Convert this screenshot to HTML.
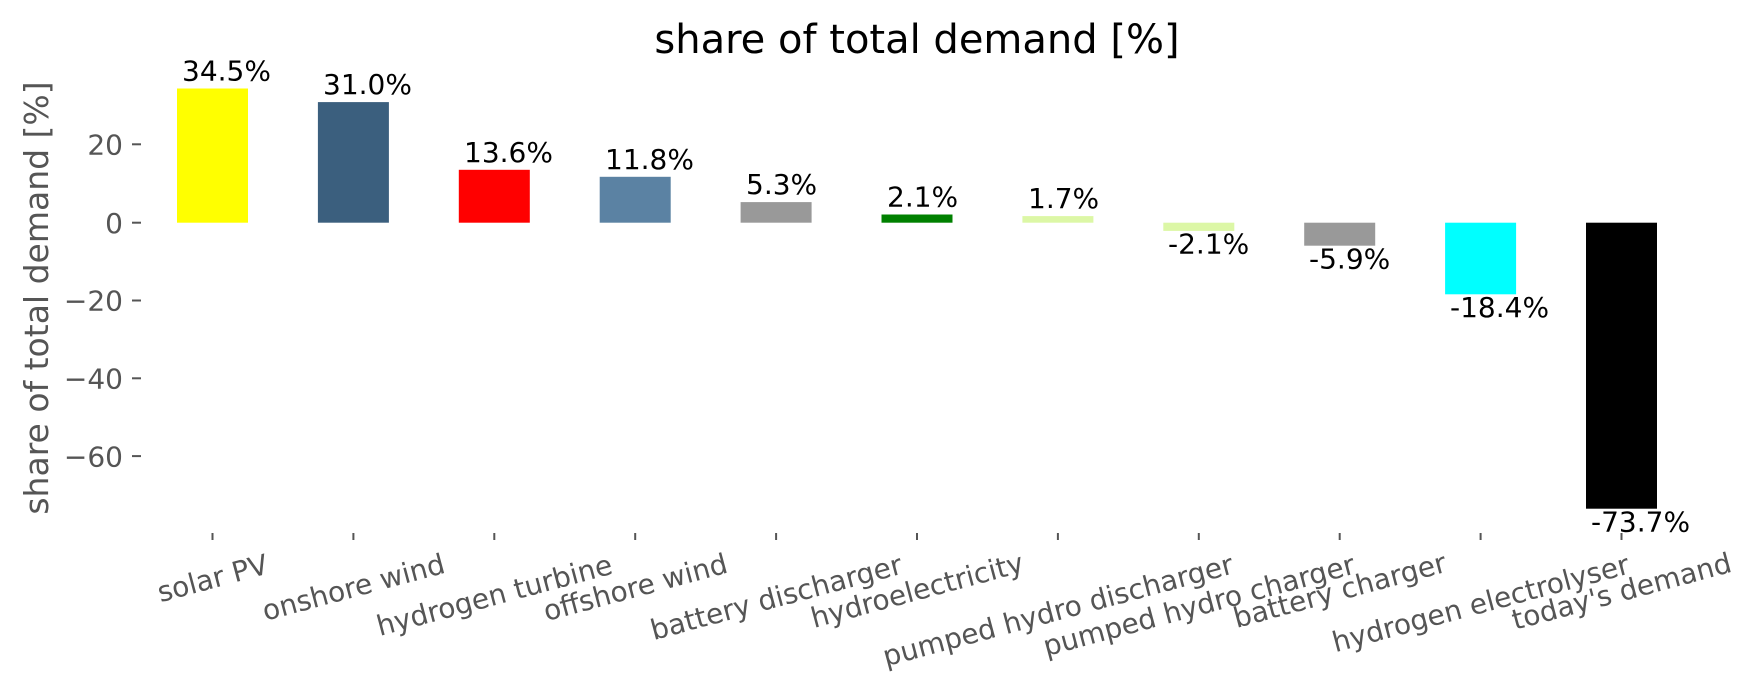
<!DOCTYPE html>
<html><head><meta charset="utf-8"><style>
html,body{margin:0;padding:0;background:#fff;}
svg{display:block;}
text{font-family:"DejaVu Sans","Liberation Sans",sans-serif;}
</style></head><body>
<svg width="1753" height="689" viewBox="0 0 1753 689" xmlns="http://www.w3.org/2000/svg">
<rect width="1753" height="689" fill="#fff"/>
<text x="917" y="53" font-size="40" text-anchor="middle" fill="#000">share of total demand [%]</text>
<text transform="translate(48,298) rotate(-90)" font-size="33" text-anchor="middle" fill="#555">share of total demand [%]</text>
<g font-size="28" fill="#555" text-anchor="end">
<text x="123" y="154.5">20</text>
<text x="123" y="233">0</text>
<text x="123" y="310.5">−20</text>
<text x="123" y="388.5">−40</text>
<text x="123" y="466.5">−60</text>
</g>
<g stroke="#555" stroke-width="2">
<line x1="132" y1="144.3" x2="141" y2="144.3"/>
<line x1="132" y1="222.7" x2="141" y2="222.7"/>
<line x1="132" y1="300.5" x2="141" y2="300.5"/>
<line x1="132" y1="378.3" x2="141" y2="378.3"/>
<line x1="132" y1="456.1" x2="141" y2="456.1"/>
</g>
<rect x="177" y="88.5" width="71" height="134.2" fill="#ffff00"/>
<rect x="317.9" y="102.1" width="71" height="120.6" fill="#3b5f7e"/>
<rect x="458.8" y="169.8" width="71" height="52.9" fill="#ff0000"/>
<rect x="599.7" y="176.8" width="71" height="45.9" fill="#5b82a3"/>
<rect x="740.6" y="202.1" width="71" height="20.6" fill="#999999"/>
<rect x="881.5" y="214.5" width="71" height="8.2" fill="#008000"/>
<rect x="1022.4" y="216.1" width="71" height="6.6" fill="#dcf7a6"/>
<rect x="1163.3" y="222.7" width="71" height="8.2" fill="#dcf7a6"/>
<rect x="1304.2" y="222.7" width="71" height="23" fill="#999999"/>
<rect x="1445.1" y="222.7" width="71" height="71.6" fill="#00ffff"/>
<rect x="1586" y="222.7" width="71" height="286" fill="#000"/>
<g font-size="28" fill="#000">
<text x="182" y="80.5">34.5%</text>
<text x="323" y="94">31.0%</text>
<text x="464" y="161.8">13.6%</text>
<text x="605" y="168.8">11.8%</text>
<text x="746" y="194.1">5.3%</text>
<text x="887" y="206.5">2.1%</text>
<text x="1028" y="208.1">1.7%</text>
<text x="1168" y="253.5">-2.1%</text>
<text x="1309" y="268.5">-5.9%</text>
<text x="1450" y="317">-18.4%</text>
<text x="1591" y="531.5">-73.7%</text>
</g>
<g stroke="#555" stroke-width="2">
<line x1="212.5" y1="533" x2="212.5" y2="540"/>
<line x1="353.4" y1="533" x2="353.4" y2="540"/>
<line x1="494.3" y1="533" x2="494.3" y2="540"/>
<line x1="635.2" y1="533" x2="635.2" y2="540"/>
<line x1="776.1" y1="533" x2="776.1" y2="540"/>
<line x1="917" y1="533" x2="917" y2="540"/>
<line x1="1057.9" y1="533" x2="1057.9" y2="540"/>
<line x1="1198.8" y1="533" x2="1198.8" y2="540"/>
<line x1="1339.7" y1="533" x2="1339.7" y2="540"/>
<line x1="1480.6" y1="533" x2="1480.6" y2="540"/>
<line x1="1621.5" y1="533" x2="1621.5" y2="540"/>
</g>
<g font-size="28" fill="#555" text-anchor="middle">
<text transform="translate(212.5,578) rotate(-15)" dy="10">solar PV</text>
<text transform="translate(353.4,587) rotate(-15)" dy="10">onshore wind</text>
<text transform="translate(494.3,595) rotate(-15)" dy="10">hydrogen turbine</text>
<text transform="translate(635.2,587) rotate(-15)" dy="10">offshore wind</text>
<text transform="translate(776.1,597) rotate(-15)" dy="10">battery discharger</text>
<text transform="translate(917,590) rotate(-15)" dy="10">hydroelectricity</text>
<text transform="translate(1057.9,610) rotate(-15)" dy="10">pumped hydro discharger</text>
<text transform="translate(1198.8,605) rotate(-15)" dy="10">pumped hydro charger</text>
<text transform="translate(1339.7,590) rotate(-15)" dy="10">battery charger</text>
<text transform="translate(1480.6,603) rotate(-15)" dy="10">hydrogen electrolyser</text>
<text transform="translate(1621.5,591) rotate(-15)" dy="10">today's demand</text>
</g>
</svg>
</body></html>
